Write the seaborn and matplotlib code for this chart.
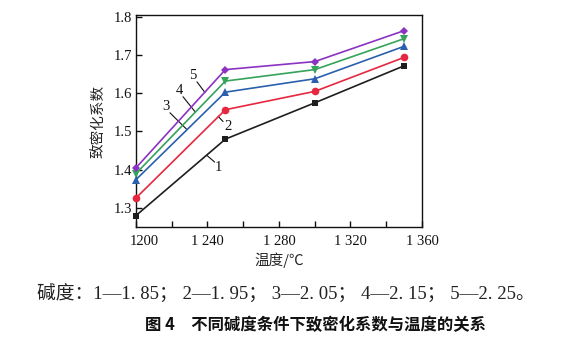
import matplotlib
matplotlib.use("Agg")
import matplotlib.pyplot as plt
import matplotlib.transforms as mtransforms
import seaborn as sns
import pandas as pd
from matplotlib.ticker import FixedLocator

# Sintering temperature (°C) and densification coefficient per basicity
temperature = [1200, 1250, 1300, 1350]
series_1 = [1.280, 1.480, 1.575, 1.672]   # basicity 1.85
series_2 = [1.326, 1.557, 1.605, 1.694]   # basicity 1.95
series_3 = [1.374, 1.603, 1.638, 1.723]   # basicity 2.05
series_4 = [1.390, 1.632, 1.662, 1.743]   # basicity 2.15
series_5 = [1.405, 1.662, 1.683, 1.764]   # basicity 2.25
series_names = ["1", "2", "3", "4", "5"]

x_major = [1200, 1240, 1280, 1320, 1360]
x_major_labels = ["1200", "1 240", "1 280", "1 320", "1 360"]
x_minor = [1220, 1260, 1300, 1340]
y_ticks = [1.3, 1.4, 1.5, 1.6, 1.7, 1.8]

colors = ["#1e1e1e", "#e5283f", "#2a60ae", "#35a35a", "#8c32c2"]
markers = ["s", "o", "^", "v", "D"]
marker_sizes = [5, 5.5, 5.5, 5.5, 4.5]

sns.set_theme(style="white")
plt.rcParams["font.family"] = ["Liberation Serif", "Noto Sans CJK SC", "DejaVu Sans"]
cjk = ["Noto Sans CJK SC", "DejaVu Sans"]
mixed = ["Liberation Serif", "Noto Sans CJK SC", "DejaVu Sans"]

all_values = [series_1, series_2, series_3, series_4, series_5]
df = pd.DataFrame({
    "temp": temperature * 5,
    "coef": [v for s in all_values for v in s],
    "series": [n for n in series_names for _ in temperature],
})

fig = plt.figure(figsize=(5.65, 3.39), dpi=100)
ax = fig.add_axes([0.2407, 0.3304, 0.5062, 0.6254])

for name, color, mk, ms in zip(series_names, colors, markers, marker_sizes):
    sub = df[df["series"] == name]
    sns.lineplot(data=sub, x="temp", y="coef", color=color, marker=mk,
                 markersize=ms, markeredgewidth=0, linewidth=1.2, ax=ax,
                 legend=False, clip_on=False, zorder=3)

ax.set_xlim(1200, 1360)
ax.set_ylim(1.25, 1.805)
ax.xaxis.set_major_locator(FixedLocator(x_major))
ax.set_xticklabels(x_major_labels)
ax.xaxis.set_minor_locator(FixedLocator(x_minor))
ax.set_yticks(y_ticks)
ax.set_yticklabels([f"{v:.1f}" for v in y_ticks])
ax.tick_params(axis="both", which="both", direction="in", colors="#111111",
               labelsize=10.5, length=4, width=1)
ax.tick_params(axis="x", which="both", bottom=True, pad=6)
ax.tick_params(axis="y", which="both", left=True, pad=3)
for sp in ax.spines.values():
    sp.set_color("#111111")
    sp.set_linewidth(1.0)

# first x label sits a little to the right of its tick
first = ax.get_xticklabels()[0]
first.set_transform(first.get_transform() +
                    mtransforms.ScaledTranslation(0.08, 0, fig.dpi_scale_trans))

ax.set_xlabel("温度/℃", fontsize=10.5, family=cjk, labelpad=3)
ax.set_ylabel("致密化系数", fontsize=10.5, family=cjk, labelpad=6)

# Curve labels with leader lines
label_specs = [
    ("1", (1246.0, 1.405), (1244.0, 1.420), (1239.5, 1.438)),
    ("2", (1251.5, 1.512), (1248.7, 1.526), (1245.9, 1.540)),
    ("3", (1216.8, 1.566), (1219.0, 1.549), (1228.5, 1.505)),
    ("4", (1224.0, 1.608), (1226.3, 1.591), (1233.0, 1.552)),
    ("5", (1231.9, 1.647), (1234.1, 1.630), (1238.6, 1.602)),
]
for txt, tpos, l0, l1 in label_specs:
    ax.text(tpos[0], tpos[1], txt, fontsize=10.5, ha="center", va="center",
            color="#111111")
    ax.plot([l0[0], l1[0]], [l0[1], l1[1]], color="#111111", linewidth=0.8)

fig.text(0.066, 0.135, "碱度：1—1. 85； 2—1. 95； 3—2. 05； 4—2. 15； 5—2. 25。",
         fontsize=13.5, ha="left", va="center", color="#222222",
         family=mixed)
fig.text(0.558, 0.04, "图 4　不同碱度条件下致密化系数与温度的关系",
         fontsize=11.8, ha="center", va="center", color="#111111",
         fontweight="bold", family=cjk)

fig.savefig("out.png", dpi=100)
